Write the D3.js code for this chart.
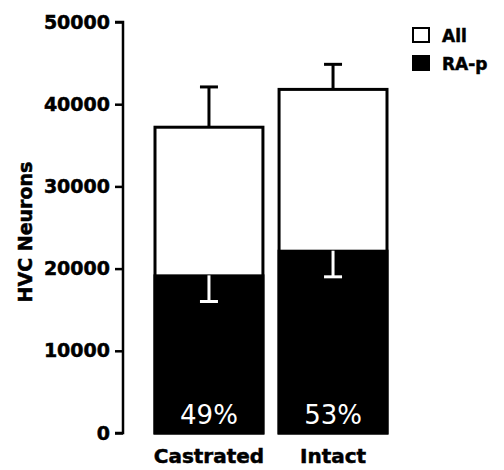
<!DOCTYPE html>
<html>
<head>
<meta charset="utf-8">
<script src="https://cdn.jsdelivr.net/npm/d3@7"></script>
<style>
  body { margin: 0; background: #fff; }
  text { font-family: "DejaVu Sans", sans-serif; }
  .heavy { font-weight: bold; stroke: #000; stroke-width: 0.5px; }
</style>
</head>
<body>
<script>
// values
const groups = ['Castrated', 'Intact'];
const allNeurons = [37200, 41800];
const allErr = [4900, 3050];
const raNeurons = [19300, 22300];
const raErr = [3300, 3300];
const pctLabels = ['49%', '53%'];
const yTicks = [0, 10000, 20000, 30000, 40000, 50000];
const legendItems = ['All', 'RA-p'];

const width = 504, height = 470;

const svg = d3.select('body').append('svg')
    .attr('width', width)
    .attr('height', height);

const y = d3.scaleLinear().domain([0, 50000]).range([433, 22]);
const x = d3.scaleBand().domain(groups).range([155, 387]).paddingInner(0.13);

// y axis
const yAxis = svg.append('g')
    .attr('transform', 'translate(123,0)')
    .call(d3.axisLeft(y).tickValues(yTicks).tickFormat(d3.format('d')).tickSize(8).tickPadding(5));
yAxis.select('.domain').attr('stroke-width', 2.5).attr('d', `M-8,${y(50000)}H0V${y(0)}H-8`);
yAxis.selectAll('.tick line').attr('stroke-width', 2.5);
yAxis.selectAll('.tick text')
    .attr('class', 'heavy')
    .attr('font-size', 19)
    .attr('fill', '#000');

svg.append('text')
    .attr('class', 'heavy')
    .attr('transform', `translate(32,${232}) rotate(-90)`)
    .attr('text-anchor', 'middle')
    .attr('font-size', 19)
    .text('HVC Neurons');

const bars = svg.append('g');

// white "All" bars with error bars above
groups.forEach((g, i) => {
    const cx = x(g) + x.bandwidth() / 2;
    bars.append('line')
        .attr('x1', cx).attr('x2', cx)
        .attr('y1', y(allNeurons[i])).attr('y2', y(allNeurons[i] + allErr[i]))
        .attr('stroke', '#000').attr('stroke-width', 3);
    bars.append('line')
        .attr('x1', cx - 9).attr('x2', cx + 9)
        .attr('y1', y(allNeurons[i] + allErr[i])).attr('y2', y(allNeurons[i] + allErr[i]))
        .attr('stroke', '#000').attr('stroke-width', 3);
    bars.append('rect')
        .attr('x', x(g))
        .attr('y', y(allNeurons[i]))
        .attr('width', x.bandwidth())
        .attr('height', y(0) - y(allNeurons[i]))
        .attr('fill', '#fff')
        .attr('stroke', '#000')
        .attr('stroke-width', 3);
});

// black "RA-p" bars with white error bars hanging down
groups.forEach((g, i) => {
    const cx = x(g) + x.bandwidth() / 2;
    bars.append('rect')
        .attr('x', x(g) - 1.5)
        .attr('y', y(raNeurons[i]))
        .attr('width', x.bandwidth() + 3)
        .attr('height', y(0) - y(raNeurons[i]) + 1.5)
        .attr('fill', '#000');
    bars.append('line')
        .attr('x1', cx).attr('x2', cx)
        .attr('y1', y(raNeurons[i]) + 1).attr('y2', y(raNeurons[i] - raErr[i]))
        .attr('stroke', '#fff').attr('stroke-width', 3);
    bars.append('line')
        .attr('x1', cx - 9).attr('x2', cx + 9)
        .attr('y1', y(raNeurons[i] - raErr[i])).attr('y2', y(raNeurons[i] - raErr[i]))
        .attr('stroke', '#fff').attr('stroke-width', 3);
    bars.append('text')
        .attr('x', cx)
        .attr('y', 424)
        .attr('text-anchor', 'middle')
        .attr('font-size', 26)
        .attr('fill', '#fff')
        .text(pctLabels[i]);
});

// category labels
svg.append('g').selectAll('text')
    .data(groups)
    .enter().append('text')
    .attr('class', 'heavy')
    .attr('x', d => x(d) + x.bandwidth() / 2)
    .attr('y', 463)
    .attr('text-anchor', 'middle')
    .attr('font-size', 20)
    .text(d => d);

// legend
const legend = svg.append('g').attr('transform', 'translate(413,28)');
legendItems.forEach((name, i) => {
    legend.append('rect')
        .attr('x', 0)
        .attr('y', i * 28)
        .attr('width', 16)
        .attr('height', 14)
        .attr('fill', i ? '#000' : '#fff')
        .attr('stroke', '#000')
        .attr('stroke-width', 2);
    legend.append('text')
        .attr('class', 'heavy')
        .attr('x', 29)
        .attr('y', i * 28 + 14)
        .attr('font-size', 17)
        .text(name);
});
</script>
</body>
</html>
